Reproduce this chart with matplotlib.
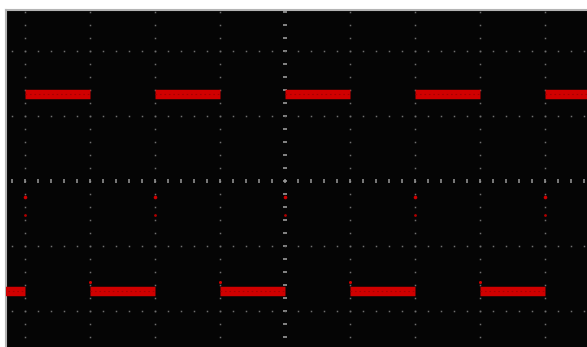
import numpy as np
import matplotlib
matplotlib.use("Agg")
import matplotlib.pyplot as plt

# square wave, in divisions (center of screen = 0,0)
seg_start = [-4.4, -4.0, -3.0, -2.0, -1.0, 0.0, 1.0, 2.0, 3.0, 4.0]
seg_end = [-4.0, -3.0, -2.0, -1.0, 0.0, 1.0, 2.0, 3.0, 4.0, 4.8]
seg_level = [-1.69, 1.34, -1.69, 1.34, -1.69, 1.34, -1.69, 1.34, -1.69, 1.34]

# faint points caught on the rising edges
edge_x = [-4.0, -2.0, 0.0, 2.0, 4.0]
edge_y1 = [-0.25, -0.25, -0.25, -0.25, -0.25]
edge_y2 = [-0.52, -0.52, -0.52, -0.52, -0.52]

# small glitch right after the falling edges
fall_x = [-3.0, -1.0, 1.0, 3.0]
fall_y = [-1.55, -1.55, -1.55, -1.55]

red = "#d00000"

fig = plt.figure(figsize=(5.87, 3.47), dpi=100, facecolor="white")
ax = fig.add_axes([6 / 587, 0, 1 - 6 / 587, 337 / 347])
ax.set_facecolor("#050505")
ax.set_xlim(-4.292, 4.646)
ax.set_ylim(-2.554, 2.63)

# graticule
step = 0.2
for gx in range(-4, 5):
    ys = np.arange(-2.6, 2.7, step)
    if gx == 0:
        ax.plot(np.full_like(ys, gx), ys, ls="none", marker="_", ms=2.4,
                mew=1.2, color="#9a9a9a", zorder=1)
    else:
        ax.plot(np.full_like(ys, gx), ys, ls="none", marker="s", ms=1.1,
                mew=0, color="#6e6e6e", zorder=1)
for gy in range(-2, 3):
    xs = np.arange(-4.4, 4.8, step)
    if gy == 0:
        ax.plot(xs, np.full_like(xs, gy), ls="none", marker="|", ms=3.0,
                mew=1.1, color="#9a9a9a", zorder=1)
    else:
        ax.plot(xs, np.full_like(xs, gy), ls="none", marker="s", ms=1.1,
                mew=0, color="#6e6e6e", zorder=1)

# trace
ax.hlines(seg_level, seg_start, seg_end, colors=red, lw=6.8, zorder=3)
ax.hlines(seg_level, seg_start, seg_end, colors="#a80000", lw=0.8,
          linestyles=(0, (1.5, 2.5)), zorder=4)
ax.plot(edge_x, edge_y1, ls="none", marker="o", ms=2.6, mew=0, color=red, zorder=3)
ax.plot(edge_x, edge_y2, ls="none", marker="o", ms=2.0, mew=0, color="#b00000", zorder=3)
ax.plot(fall_x, fall_y, ls="none", marker="o", ms=2.2, mew=0, color=red, zorder=3)

ax.set_xticks([])
ax.set_yticks([])
for side in ["right", "bottom"]:
    ax.spines[side].set_visible(False)
for side in ["left", "top"]:
    ax.spines[side].set_color("#b4b4b4")
    ax.spines[side].set_linewidth(1.5)

fig.savefig("out.png", dpi=100, facecolor="white")
